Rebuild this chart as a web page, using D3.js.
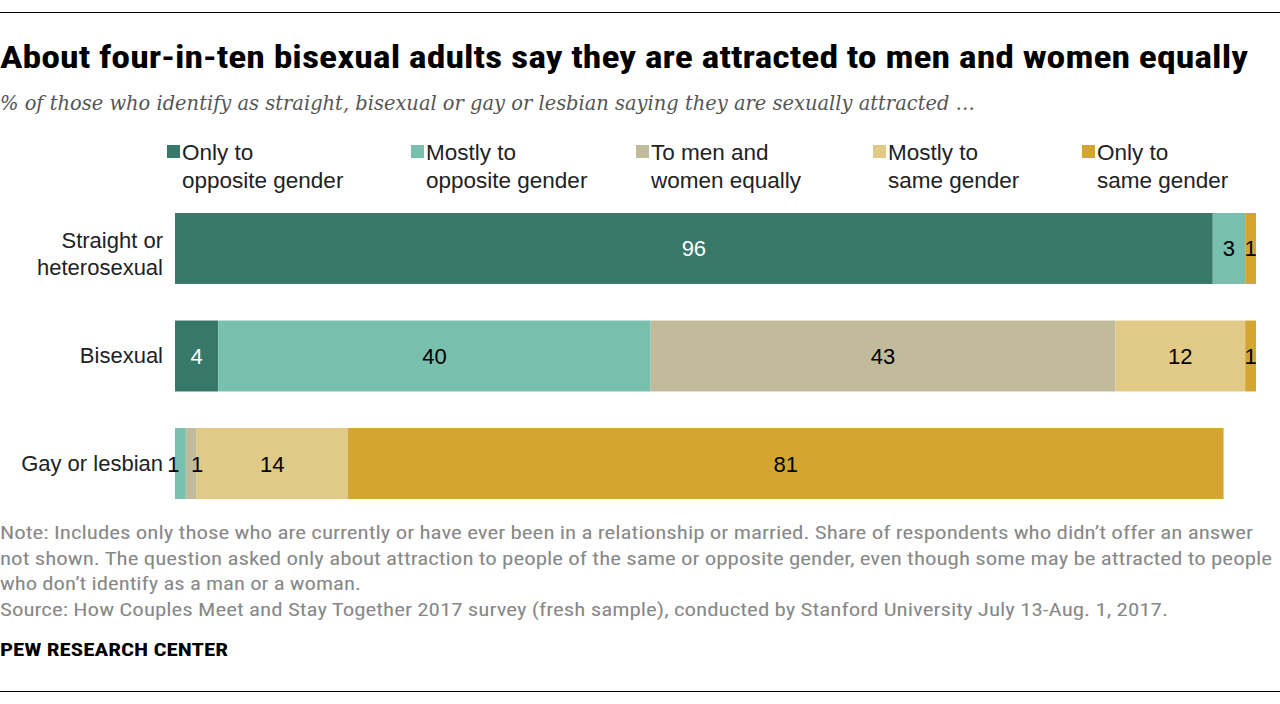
<!DOCTYPE html>
<html>
<head>
<meta charset="utf-8">
<script src="https://cdn.jsdelivr.net/npm/d3@7"></script>
<style>
  body { margin: 0; background: #fff; }
  svg text { font-family: "Liberation Sans Narrow", "Roboto Condensed", "Liberation Sans", Arial, sans-serif; }
</style>
</head>
<body>
<div id="chart"></div>
<script>
// groups (rows) and answer categories
const groups = ["Straight or\nheterosexual", "Bisexual", "Gay or lesbian"];
const categories = ["Only to\nopposite gender", "Mostly to\nopposite gender", "To men and\nwomen equally", "Mostly to\nsame gender", "Only to\nsame gender"];
const colors = ["#387868", "#78bfad", "#c2bb9b", "#e1ca86", "#d3a631"];

const onlyOpposite   = [96, 4, 0];
const mostlyOpposite = [3, 40, 1];
const equally        = [0, 43, 1];
const mostlySame     = [0, 12, 14];
const onlySame       = [1, 1, 81];

const title = "About four-in-ten bisexual adults say they are attracted to men and women equally";
const subtitle = "% of those who identify as straight, bisexual or gay or lesbian saying they are sexually attracted …";
const notes = [
  "Note: Includes only those who are currently or have ever been in a relationship or married. Share of respondents who didn\u2019t offer an answer",
  "not shown. The question asked only about attraction to people of the same or opposite gender, even though some may be attracted to people",
  "who don\u2019t identify as a man or a woman.",
  "Source: How Couples Meet and Stay Together 2017 survey (fresh sample), conducted by Stanford University July 13-Aug. 1, 2017."
];
const noteWidths = [1253, 1272, 361, 1168];

const width = 1280, height = 704;
const svg = d3.select("#chart").append("svg")
  .attr("width", width).attr("height", height);

// top & bottom rules
svg.append("line").attr("x1", 0).attr("x2", width).attr("y1", 12.5).attr("y2", 12.5).attr("stroke", "#000").attr("stroke-width", 1);
svg.append("line").attr("x1", 0).attr("x2", width).attr("y1", 691.5).attr("y2", 691.5).attr("stroke", "#000").attr("stroke-width", 1);

svg.append("text").attr("x", 0).attr("y", 68)
  .attr("font-size", 31).attr("font-weight", "bold").attr("fill", "#000")
  .attr("textLength", 1248).attr("lengthAdjust", "spacingAndGlyphs")
  .text(title);

svg.append("text").attr("x", 0).attr("y", 110)
  .style("font-family", "'DejaVu Serif', Georgia, serif")
  .attr("font-size", 20).attr("font-style", "italic").attr("fill", "#555")
  .attr("textLength", 975).attr("lengthAdjust", "spacingAndGlyphs")
  .text(subtitle);

// legend
const legendX = [167, 411, 636, 873, 1082];
const lg = svg.selectAll(".leg").data(categories).join("g")
  .attr("transform", (d, i) => `translate(${legendX[i]},0)`);
lg.append("rect").attr("x", 0).attr("y", 145).attr("width", 13).attr("height", 13)
  .attr("fill", (d, i) => colors[i]);
lg.append("text").attr("x", 15).attr("y", 160)
  .style("font-family", "'Liberation Sans', Arial, sans-serif")
  .attr("font-size", 22.5).attr("fill", "#222")
  .selectAll("tspan").data(d => d.split("\n")).join("tspan")
  .attr("x", 15).attr("dy", (d, i) => i ? 28 : 0).text(d => d);

// scales
const x = d3.scaleLinear().domain([0, 100]).range([175, 1256]);
const y = d3.scaleBand().domain(groups).range([213, 499]).paddingInner(0.34).paddingOuter(0);

const series = [onlyOpposite, mostlyOpposite, equally, mostlySame, onlySame];
const rows = groups.map((g, gi) => {
  let acc = 0;
  return series.map((s, si) => {
    const seg = { group: g, gi, si, v: s[gi], x0: acc, x1: acc + s[gi] };
    acc += s[gi];
    return seg;
  });
}).flat().filter(d => d.v > 0);

svg.append("g").selectAll("rect").data(rows).join("rect")
  .attr("x", d => x(d.x0)).attr("width", d => x(d.x1) - x(d.x0))
  .attr("y", d => y(d.group)).attr("height", y.bandwidth())
  .attr("fill", d => colors[d.si]);

// nudge for crowded tiny labels on gay/lesbian row
const nudge = d => (d.gi === 2 && d.si === 1) ? -7 : (d.gi === 2 && d.si === 2) ? 6 : 0;

svg.append("g").selectAll("text").data(rows).join("text")
  .style("font-family", "'Liberation Sans', Arial, sans-serif")
  .attr("x", d => (x(d.x0) + x(d.x1)) / 2 + nudge(d))
  .attr("y", d => y(d.group) + y.bandwidth() / 2 + 8)
  .attr("text-anchor", "middle").attr("font-size", 22)
  .attr("fill", d => d.si === 0 ? "#fff" : "#000")
  .text(d => d.v);

// row labels
svg.append("g").selectAll("text").data(groups).join("text")
  .style("font-family", "'Liberation Sans', Arial, sans-serif")
  .attr("text-anchor", "end").attr("font-size", 22).attr("fill", "#222")
  .attr("y", d => {
    const n = d.split("\n").length;
    return y(d) + y.bandwidth() / 2 + 7 - (n - 1) * 7.5;
  })
  .selectAll("tspan").data(d => d.split("\n")).join("tspan")
  .attr("x", 163).attr("dy", (d, i) => i ? 27 : 0).text(d => d);

// notes
svg.append("g").selectAll("text").data(notes).join("text")
  .attr("x", 0).attr("y", (d, i) => 539 + i * 25.5)
  .attr("font-size", 18).attr("fill", "#888")
  .attr("textLength", (d, i) => noteWidths[i]).attr("lengthAdjust", "spacingAndGlyphs")
  .text(d => d);

svg.append("text").attr("x", 0).attr("y", 656)
  .attr("font-size", 18).attr("font-weight", "bold").attr("fill", "#000")
  .attr("textLength", 228).attr("lengthAdjust", "spacingAndGlyphs")
  .text("PEW RESEARCH CENTER");
</script>
</body>
</html>
